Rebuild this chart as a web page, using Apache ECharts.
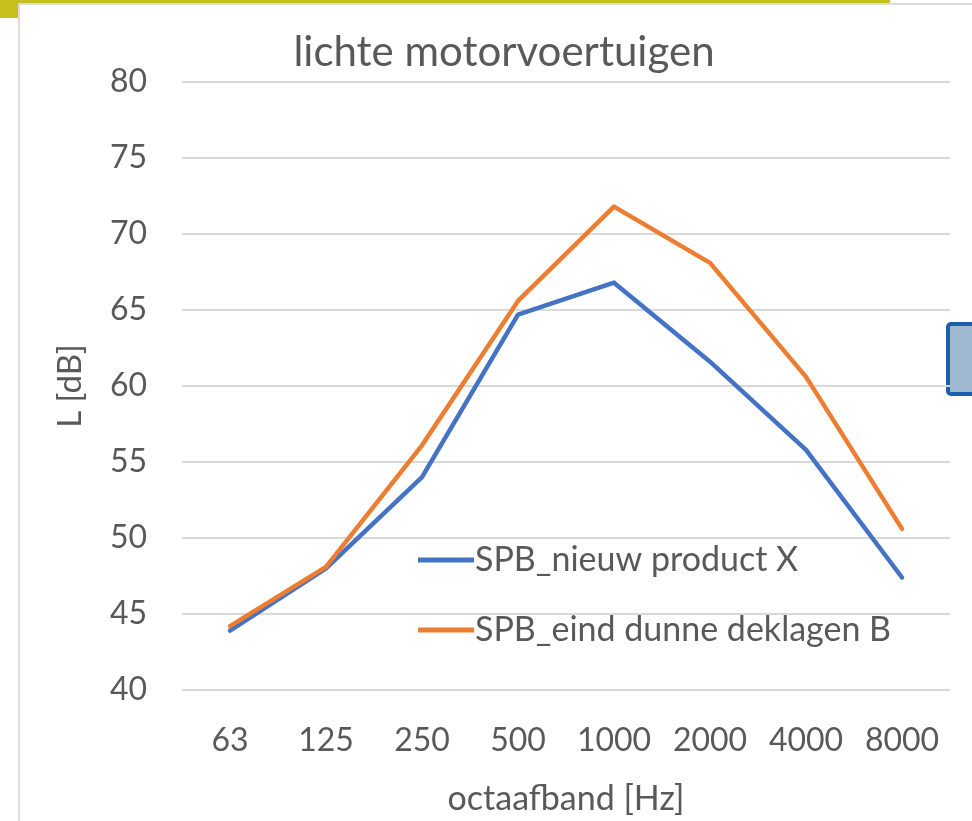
<!DOCTYPE html>
<html>
<head>
<meta charset="utf-8">
<script src="https://cdn.jsdelivr.net/npm/echarts@6/dist/echarts.min.js"></script>
<style>
  html, body { margin: 0; padding: 0; background: #fff; }
  #chart { width: 972px; height: 821px; }
</style>
</head>
<body>
<div id="chart"></div>
<script>
  var categories = ['63', '125', '250', '500', '1000', '2000', '4000', '8000']
  var nieuwProduct = [43.9, 48.0, 54.0, 64.7, 66.8, 61.6, 55.8, 47.4]
  var eindDunne = [44.2, 48.1, 56.1, 65.6, 71.8, 68.1, 60.6, 50.6]
  var seriesNames = ['SPB_nieuw product X', 'SPB_eind dunne deklagen B']

  var font = 'Lato'
  var textColor = '#595959'

  var chart = echarts.init(document.getElementById('chart'))

  chart.setOption({
    backgroundColor: '#fff',
    animation: false,
    textStyle: { fontFamily: font },
    title: {
      text: 'lichte motorvoertuigen',
      left: 499,
      top: 26,
      textAlign: 'center',
      textStyle: {
        fontFamily: font,
        fontWeight: 'normal',
        fontSize: 42,
        color: textColor,
      },
    },
    legend: {
      orient: 'vertical',
      left: 413,
      top: 538,
      icon: 'rect',
      itemWidth: 56,
      itemHeight: 5,
      itemGap: 36,
      data: seriesNames,
      textStyle: {
        fontFamily: font,
        fontSize: 34,
        color: textColor,
        padding: [0, 0, 0, -4],
      },
    },
    grid: {
      left: 182,
      right: 22,
      top: 82,
      bottom: 120,
    },
    xAxis: {
      type: 'category',
      data: categories,
      boundaryGap: true,
      name: 'octaafband [Hz]',
      nameLocation: 'middle',
      nameGap: 92,
      nameTextStyle: {
        fontFamily: font,
        fontSize: 34,
        color: textColor,
      },
      axisLine: { show: false },
      axisTick: { show: false },
      axisLabel: {
        interval: 0,
        hideOverlap: false,
        margin: 35,
        fontFamily: font,
        fontSize: 32,
        color: textColor,
      },
    },
    yAxis: {
      type: 'value',
      min: 40,
      max: 80,
      interval: 5,
      name: 'L [dB]',
      nameLocation: 'middle',
      nameGap: 95,
      nameTextStyle: {
        fontFamily: font,
        fontSize: 33,
        color: textColor,
      },
      axisLine: { show: false },
      axisTick: { show: false },
      axisLabel: {
        margin: 35,
        fontFamily: font,
        fontSize: 32,
        color: textColor,
      },
      splitLine: {
        lineStyle: { color: '#d9d9d9', width: 2 },
      },
    },
    series: [
      {
        name: seriesNames[0],
        type: 'line',
        data: nieuwProduct,
        symbol: 'none',
        lineStyle: { color: '#4472C4', width: 4.5, cap: 'round', join: 'round' },
        itemStyle: { color: '#4472C4' },
      },
      {
        name: seriesNames[1],
        type: 'line',
        data: eindDunne,
        symbol: 'none',
        lineStyle: { color: '#ED7D31', width: 4.5, cap: 'round', join: 'round' },
        itemStyle: { color: '#ED7D31' },
      },
    ],
    graphic: [
      // yellow corner strip
      { type: 'rect', shape: { x: 0, y: 0, width: 890, height: 3 }, style: { fill: '#c6c11c' } },
      { type: 'rect', shape: { x: 0, y: 0, width: 18, height: 18 }, style: { fill: '#c6c11c' } },
      // light frame of the chart area
      { type: 'rect', shape: { x: 18, y: 3, width: 954, height: 2 }, style: { fill: '#dcdcdc' } },
      { type: 'rect', shape: { x: 18, y: 3, width: 2, height: 818 }, style: { fill: '#dcdcdc' } },
      // partially visible blue box on the right
      {
        type: 'rect',
        shape: { x: 948, y: 324, width: 40, height: 70, r: 3 },
        style: { fill: '#9fb9d3', stroke: '#1b5fae', lineWidth: 4 },
      },
    ],
  })
</script>
</body>
</html>
